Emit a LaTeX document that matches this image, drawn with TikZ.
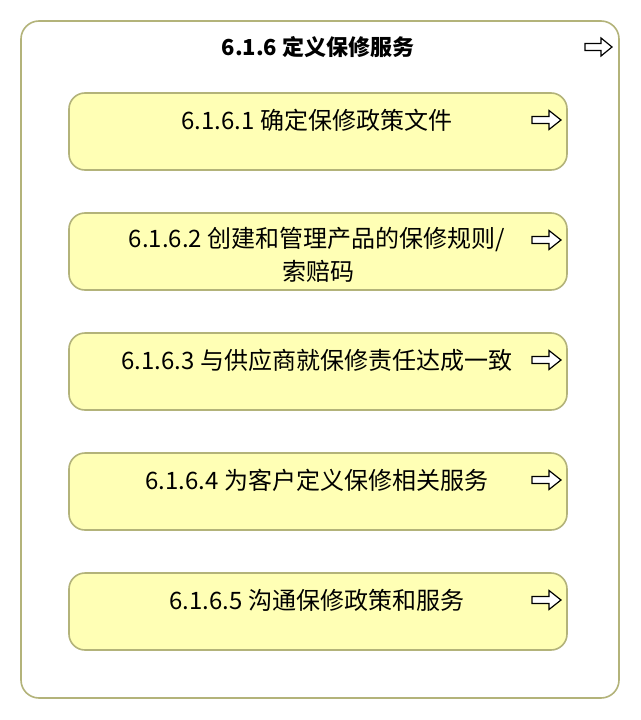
\documentclass[tikz,border=0pt]{standalone}
\usepackage{fontspec}
\setmainfont{Noto Sans CJK SC}
\definecolor{frame}{HTML}{B3B37A}
\definecolor{boxfill}{HTML}{FFFFB5}
\begin{document}
\begin{tikzpicture}[x=1pt,y=-1pt,
  outer/.style={draw=frame,line width=1.6pt,rounded corners=18pt,fill=white},
  inner/.style={draw=frame,line width=1.6pt,rounded corners=16pt,fill=boxfill},
  lbl/.style={font=\fontsize{24}{31}\selectfont,align=center,inner sep=0pt},
  ttl/.style={font=\fontsize{22}{26}\selectfont\bfseries,inner sep=0pt},
  arr/.style={draw=black,line width=1.2pt,fill=white,line join=miter}]
\useasboundingbox (0,0) rectangle (640,720);
\path[fill=white] (0,0) rectangle (640,720);
\draw[outer] (21,21) rectangle (619,698);
\node[ttl] (title) at (318,47) {6.1.6 定义保修服务};
\coordinate (ta) at (585,47);
\draw[arr,shift={(ta)}] (0,-3.5) -- (16,-3.5) -- (16,-9) -- (27,0) -- (16,9) -- (16,3.5) -- (0,3.5) -- cycle;
\foreach \i/\y/\t in {1/93/{6.1.6.1 确定保修政策文件},3/333/{6.1.6.3 与供应商就保修责任达成一致},4/453/{6.1.6.4 为客户定义保修相关服务},5/573/{6.1.6.5 沟通保修政策和服务}}{
  \draw[inner] (69,\y) rectangle (567,\y+77);
  \node[lbl] (b\i) at (317,\y+27) {\t};
  \coordinate (a\i) at (532,\y+27);
  \draw[arr,shift={(a\i)}] (0,-3.5) -- (17,-3.5) -- (17,-9.5) -- (29,0) -- (17,9.5) -- (17,3.5) -- (0,3.5) -- cycle;
}
\draw[inner] (69,213) rectangle (567,290);
\begin{scope}
\clip (69,213) rectangle (567,283);
\node[lbl] (b2a) at (317,240) {6.1.6.2 创建和管理产品的保修规则/};
\node[lbl] (b2b) at (318,271) {索赔码};
\end{scope}
\coordinate (a2) at (532,240);
\draw[arr,shift={(a2)}] (0,-3.5) -- (17,-3.5) -- (17,-9.5) -- (29,0) -- (17,9.5) -- (17,3.5) -- (0,3.5) -- cycle;
\end{tikzpicture}
\end{document}
